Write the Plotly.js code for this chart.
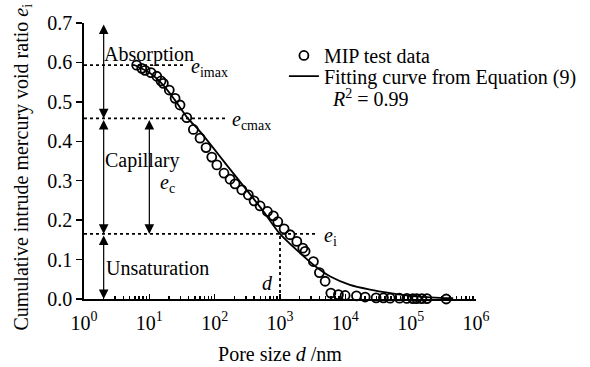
<!DOCTYPE html>
<html>
<head>
<meta charset="utf-8">
<script src="https://cdn.plot.ly/plotly-3.0.1.min.js"></script>
<style>html,body{margin:0;padding:0;background:#fff;}</style>
</head>
<body>
<div id="chart" style="width:590px;height:367px;"></div>
<script>
// MIP test data (pore size d in nm, cumulative intruded mercury void ratio e_i)
const mipD = [6.4, 7.65, 8.6, 10.6, 13.0, 15.1, 16.4, 20.2, 24.8, 29.5, 37.4, 47.2, 59.7, 73.8, 90.3, 108, 139, 172, 205, 260, 328, 401, 496, 641, 792, 925, 1156, 1428, 1808, 2234, 2423, 3245, 4012, 4907, 6000, 7840, 9930, 14800, 20100, 29600, 38300, 48500, 67400, 87500, 108000, 124000, 148000, 177000, 350000];
const mipE = [0.593, 0.585, 0.580, 0.574, 0.565, 0.553, 0.547, 0.530, 0.509, 0.492, 0.460, 0.430, 0.408, 0.384, 0.360, 0.340, 0.319, 0.304, 0.292, 0.277, 0.264, 0.249, 0.236, 0.222, 0.211, 0.196, 0.178, 0.163, 0.146, 0.129, 0.121, 0.095, 0.067, 0.045, 0.015, 0.011, 0.009, 0.008, 0.005, 0.003, 0.003, 0.002, 0.002, 0.0015, 0.001, 0.001, 0.001, 0.001, 0.000];

// Fitting curve from Equation (9)
const fitD = [6.03, 10.2, 16.2, 24.5, 38.9, 60.3, 174, 525, 1000, 2042, 3467, 5888, 11749, 23988, 48978, 97724, 281838, 446684];
const fitE = [0.593, 0.573, 0.543, 0.505, 0.458, 0.424, 0.328, 0.228, 0.165, 0.116, 0.083, 0.057, 0.036, 0.024, 0.015, 0.008, 0.003, 0.002];

// Characteristic void ratios and pore size
const eImax = 0.593;
const eCmax = 0.458;
const eI = 0.165;
const dPoint = 1000;

// Axis ticks
const xTickVals = [1, 10, 100, 1000, 10000, 100000, 1000000];
const xTickText = ['10<sup>0</sup>', '10<sup>1</sup>', '10<sup>2</sup>', '10<sup>3</sup>', '10<sup>4</sup>', '10<sup>5</sup>', '10<sup>6</sup>'];
const yTickVals = [0, 0.1, 0.2, 0.3, 0.4, 0.5, 0.6, 0.7];

const minorVals = [];
for (let p = 0; p < 6; p++) { for (let k = 2; k <= 9; k++) minorVals.push(k * Math.pow(10, p)); }

const FONT = 'Liberation Serif, Times New Roman, serif';
const FS = 20;
const dotStyle = {color: '#000', width: 1.8, dash: 'dot'};

const traces = [
  {x: [1, 35], y: [eImax, eImax], mode: 'lines', line: dotStyle, showlegend: false, hoverinfo: 'skip'},
  {x: [1, 144], y: [eCmax, eCmax], mode: 'lines', line: dotStyle, showlegend: false, hoverinfo: 'skip'},
  {x: [1, 3560], y: [eI, eI], mode: 'lines', line: dotStyle, showlegend: false, hoverinfo: 'skip'},
  {x: [dPoint, dPoint], y: [0, eI], mode: 'lines', line: dotStyle, showlegend: false, hoverinfo: 'skip'},
  {x: mipD, y: mipE, mode: 'markers', name: 'MIP test data', cliponaxis: false, legend: 'legend',
   marker: {symbol: 'circle-open', size: 9, color: '#000', line: {color: '#000', width: 1.8}}},
  {x: fitD, y: fitE, mode: 'lines', name: 'Fitting curve from Equation (9)', legend: 'legend2',
   line: {color: '#000', width: 1.8, shape: 'spline', smoothing: 0.8}}
];

function dblArrow(lx, y0, y1) {
  return {x: lx, y: y1, ax: lx, ay: y0, xref: 'x', yref: 'y', axref: 'x', ayref: 'y',
    text: '', showarrow: true, arrowhead: 2, arrowsize: 1.6, arrowwidth: 1.2,
    arrowside: 'end+start', startarrowhead: 2, startarrowsize: 1.6,
    standoff: 0, startstandoff: 0, arrowcolor: '#000'};
}
function label(lx, y, txt) {
  return {x: lx, y: y, xref: 'x', yref: 'y', text: txt, showarrow: false,
    xanchor: 'left', yanchor: 'middle', font: {family: FONT, size: FS, color: '#000'}};
}

const annotations = [
  dblArrow(0.301, 0.7, eCmax),
  dblArrow(0.301, eCmax, eI),
  dblArrow(0.301, eI, 0),
  dblArrow(1.0, eCmax, eI),
  label(0.27, 0.621, 'Absorption'),
  label(0.29, 0.352, 'Capillary'),
  label(0.30, 0.079, 'Unsaturation'),
  label(1.61, 0.588, '<i>e</i><sub>imax</sub>'),
  label(2.23, 0.452, '<i>e</i><sub>cmax</sub>'),
  label(3.65, 0.158, '<i>e</i><sub>i</sub>'),
  label(1.14, 0.292, '<i>e</i><sub>c</sub>'),
  label(2.69, 0.04, '<i>d</i>'),
  {x: 0.6276, y: 0.728, xref: 'paper', yref: 'paper', text: '<i>R</i><sup>2</sup> = 0.99',
   showarrow: false, xanchor: 'left', yanchor: 'middle', font: {family: FONT, size: FS, color: '#000'}},
  {x: -0.158, y: 0.4765, xref: 'paper', yref: 'paper', textangle: -90,
   text: 'Cumulative intrude mercury void ratio <i>e</i><sub>i</sub>',
   showarrow: false, xanchor: 'center', yanchor: 'middle', font: {family: FONT, size: FS, color: '#000'}}
];

const legendBase = {xanchor: 'left', yanchor: 'top', bgcolor: 'rgba(0,0,0,0)',
  font: {family: FONT, size: FS, color: '#000'}, itemwidth: 30};

const layout = {
  width: 590, height: 367,
  margin: {l: 84, r: 114, t: 23, b: 68, pad: 0, autoexpand: false},
  paper_bgcolor: '#fff', plot_bgcolor: '#fff',
  font: {family: FONT, size: FS, color: '#000'},
  showlegend: true,
  legend: Object.assign({x: 0.51, y: 0.953}, legendBase),
  legend2: Object.assign({x: 0.51, y: 0.878}, legendBase),
  xaxis: {
    type: 'log', range: [0, 6], tickmode: 'array', tickvals: xTickVals, ticktext: xTickText,
    ticks: 'inside', ticklen: 5, tickwidth: 1.5, tickcolor: '#000',
    showline: true, linewidth: 1.8, linecolor: '#000', showgrid: false, zeroline: false,
    tickfont: {family: FONT, size: FS, color: '#000'}, ticklabelstandoff: 5,
    minor: {tickmode: 'array', tickvals: minorVals, ticks: 'inside', ticklen: 3, tickwidth: 1.5, tickcolor: '#000', showgrid: false},
    title: {text: 'Pore size <i>d</i> /nm', font: {family: FONT, size: FS, color: '#000'}, standoff: 14}
  },
  yaxis: {
    range: [0, 0.7], tickmode: 'array', tickvals: yTickVals, tickformat: '.1f',
    ticks: 'outside', ticklen: 6, tickwidth: 1.5, tickcolor: '#000',
    showline: true, linewidth: 1.8, linecolor: '#000', showgrid: false, zeroline: false,
    tickfont: {family: FONT, size: FS, color: '#000'}
  },
  annotations: annotations
};

Plotly.newPlot('chart', traces, layout, {displayModeBar: false, staticPlot: true});
</script>
</body>
</html>
